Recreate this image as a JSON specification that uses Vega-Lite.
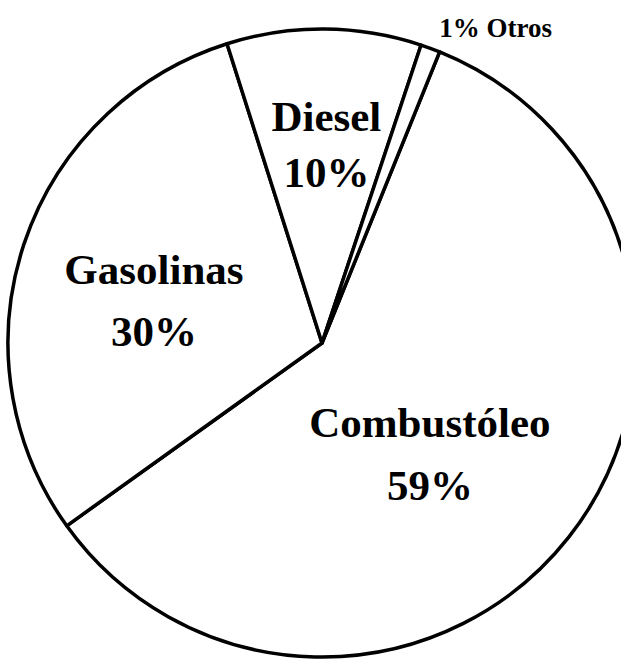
{
  "$schema": "https://vega.github.io/schema/vega-lite/v6.json",
  "width": 644,
  "height": 686,
  "autosize": {"type": "none"},
  "padding": 0,
  "background": "white",
  "config": {"view": {"stroke": null}},
  "data": {
    "values": [
      {"categoria": "Combustóleo", "valor": 59, "etiqueta": "Combustóleo\n59%"},
      {"categoria": "Gasolinas", "valor": 30, "etiqueta": "Gasolinas\n30%"},
      {"categoria": "Diesel", "valor": 10, "etiqueta": "Diesel\n10%"},
      {"categoria": "Otros", "valor": 1, "etiqueta": "1% Otros"}
    ]
  },
  "layer": [
    {
      "mark": {"type": "arc", "outerRadius": 314, "fill": "white", "stroke": "black", "strokeWidth": 3.5, "strokeJoin": "round"},
      "encoding": {
        "theta": {"field": "valor", "type": "quantitative", "stack": true, "scale": {"domain": [0, 100], "range": [0.384, 6.667]}}
      }
    },
    {
      "transform": [
        {"stack": "valor", "groupby": [], "as": ["v0", "v1"]},
        {"calculate": "(datum.v0 + datum.v1) / 2", "as": "medio"},
        {"filter": "datum.categoria === 'Combustóleo'"}
      ],
      "mark": {"type": "text", "radius": 150, "dx": -10, "dy": -12, "font": "Liberation Serif", "fontWeight": "bold", "fontSize": 43, "lineBreak": "\n", "lineHeight": 63, "align": "center", "baseline": "middle", "color": "black"},
      "encoding": {
        "theta": {"field": "medio", "type": "quantitative", "stack": null, "scale": {"domain": [0, 100], "range": [0.384, 6.667]}},
        "text": {"field": "etiqueta"}
      }
    },
    {
      "transform": [
        {"stack": "valor", "groupby": [], "as": ["v0", "v1"]},
        {"calculate": "(datum.v0 + datum.v1) / 2", "as": "medio"},
        {"filter": "datum.categoria === 'Gasolinas'"}
      ],
      "mark": {"type": "text", "radius": 175, "dx": -2, "dy": -17, "font": "Liberation Serif", "fontWeight": "bold", "fontSize": 43, "lineBreak": "\n", "lineHeight": 62, "align": "center", "baseline": "middle", "color": "black"},
      "encoding": {
        "theta": {"field": "medio", "type": "quantitative", "stack": null, "scale": {"domain": [0, 100], "range": [0.384, 6.667]}},
        "text": {"field": "etiqueta"}
      }
    },
    {
      "transform": [
        {"stack": "valor", "groupby": [], "as": ["v0", "v1"]},
        {"calculate": "(datum.v0 + datum.v1) / 2", "as": "medio"},
        {"filter": "datum.categoria === 'Diesel'"}
      ],
      "mark": {"type": "text", "radius": 203, "dx": 3, "dy": -22, "font": "Liberation Serif", "fontWeight": "bold", "fontSize": 43, "lineBreak": "\n", "lineHeight": 56, "align": "center", "baseline": "middle", "color": "black"},
      "encoding": {
        "theta": {"field": "medio", "type": "quantitative", "stack": null, "scale": {"domain": [0, 100], "range": [0.384, 6.667]}},
        "text": {"field": "etiqueta"}
      }
    },
    {
      "transform": [
        {"stack": "valor", "groupby": [], "as": ["v0", "v1"]},
        {"calculate": "(datum.v0 + datum.v1) / 2", "as": "medio"},
        {"filter": "datum.categoria === 'Otros'"}
      ],
      "mark": {"type": "text", "radius": 340, "dx": 0, "dy": 5, "font": "Liberation Serif", "fontWeight": "bold", "fontSize": 27, "align": "left", "baseline": "middle", "color": "black"},
      "encoding": {
        "theta": {"field": "medio", "type": "quantitative", "stack": null, "scale": {"domain": [0, 100], "range": [0.384, 6.667]}},
        "text": {"field": "etiqueta"}
      }
    }
  ]
}
